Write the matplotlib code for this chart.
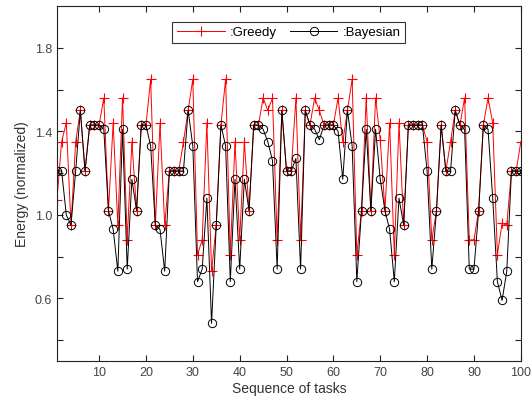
import numpy as np
import matplotlib
matplotlib.use("Agg")
import matplotlib.pyplot as plt

tasks = np.arange(1, 101)

greedy = [1.07, 1.35, 1.44, 0.95, 1.35, 1.50, 1.21, 1.43, 1.43, 1.43,
          1.56, 1.02, 1.44, 0.95, 1.56, 0.88, 1.35, 1.02, 1.43, 1.43,
          1.65, 0.95, 1.44, 0.95, 1.21, 1.21, 1.21, 1.35, 1.50, 1.65,
          0.81, 0.88, 1.44, 0.73, 0.95, 1.43, 1.65, 0.81, 1.35, 0.88,
          1.35, 1.02, 1.43, 1.43, 1.56, 1.50, 1.56, 0.88, 1.50, 1.21,
          1.21, 1.56, 0.88, 1.50, 1.43, 1.56, 1.50, 1.43, 1.43, 1.43,
          1.56, 1.35, 1.50, 1.65, 0.81, 1.02, 1.56, 1.02, 1.56, 1.36,
          1.02, 1.44, 0.81, 1.44, 0.95, 1.43, 1.43, 1.43, 1.43, 1.35,
          0.88, 1.02, 1.43, 1.21, 1.35, 1.50, 1.43, 1.56, 0.88, 0.88,
          1.02, 1.43, 1.56, 1.44, 0.81, 0.96, 0.95, 1.21, 1.21, 1.35]

bayesian = [1.21, 1.21, 1.00, 0.95, 1.21, 1.50, 1.21, 1.43, 1.43, 1.43,
            1.41, 1.02, 0.93, 0.73, 1.41, 0.74, 1.17, 1.02, 1.43, 1.43,
            1.33, 0.95, 0.93, 0.73, 1.21, 1.21, 1.21, 1.21, 1.50, 1.33,
            0.68, 0.74, 1.08, 0.48, 0.95, 1.43, 1.33, 0.68, 1.17, 0.74,
            1.17, 1.02, 1.43, 1.43, 1.41, 1.35, 1.26, 0.74, 1.50, 1.21,
            1.21, 1.27, 0.74, 1.50, 1.43, 1.41, 1.36, 1.43, 1.43, 1.43,
            1.40, 1.17, 1.50, 1.33, 0.68, 1.02, 1.41, 1.02, 1.41, 1.17,
            1.02, 0.93, 0.68, 1.08, 0.95, 1.43, 1.43, 1.43, 1.43, 1.21,
            0.74, 1.02, 1.43, 1.21, 1.21, 1.50, 1.43, 1.41, 0.74, 0.74,
            1.02, 1.43, 1.41, 1.08, 0.68, 0.59, 0.73, 1.21, 1.21, 1.21]

y_ticks = [0.4, 0.6, 0.8, 1.0, 1.2, 1.4, 1.6, 1.8]
y_labels = ["", "0.6", "", "1.0", "", "1.4", "", "1.8"]
x_ticks = list(range(10, 101, 10))

plt.rcParams["font.family"] = ["Liberation Sans", "DejaVu Sans"]

fig = plt.figure(figsize=(5.32, 4.02), dpi=100)
ax = fig.add_axes([0.107, 0.0995, 0.872, 0.883])

ax.plot(tasks, greedy, color="#ff0000", lw=0.7, marker="+", ms=7,
        mew=0.8, label=":Greedy")
ax.plot(tasks, bayesian, color="black", lw=0.7, marker="o", ms=6,
        mfc="none", mew=0.7, label=":Bayesian")

ax.set_xlim(1, 100)
ax.set_ylim(0.3, 2.0)
ax.set_xticks(x_ticks)
ax.set_yticks(y_ticks)
ax.set_yticklabels(y_labels)
ax.tick_params(direction="in", top=True, right=True, length=4,
               labelsize=9, colors="#222222", labelcolor="#444444")
for s in ax.spines.values():
    s.set_linewidth(0.8)
    s.set_color("#222222")

ax.set_xlabel("Sequence of tasks", fontsize=10, color="#333333", labelpad=2)
ax.set_ylabel("Energy (normalized)", fontsize=10, color="#333333", labelpad=4)

leg = ax.legend(loc="upper center", ncol=2, fontsize=9.5, frameon=True,
                fancybox=False, edgecolor="black", handlelength=3.6,
                borderpad=0.35, columnspacing=1.0, handletextpad=0.4,
                bbox_to_anchor=(0.5, 0.975))
leg.get_frame().set_linewidth(0.8)

fig.savefig("out.png", dpi=100)
